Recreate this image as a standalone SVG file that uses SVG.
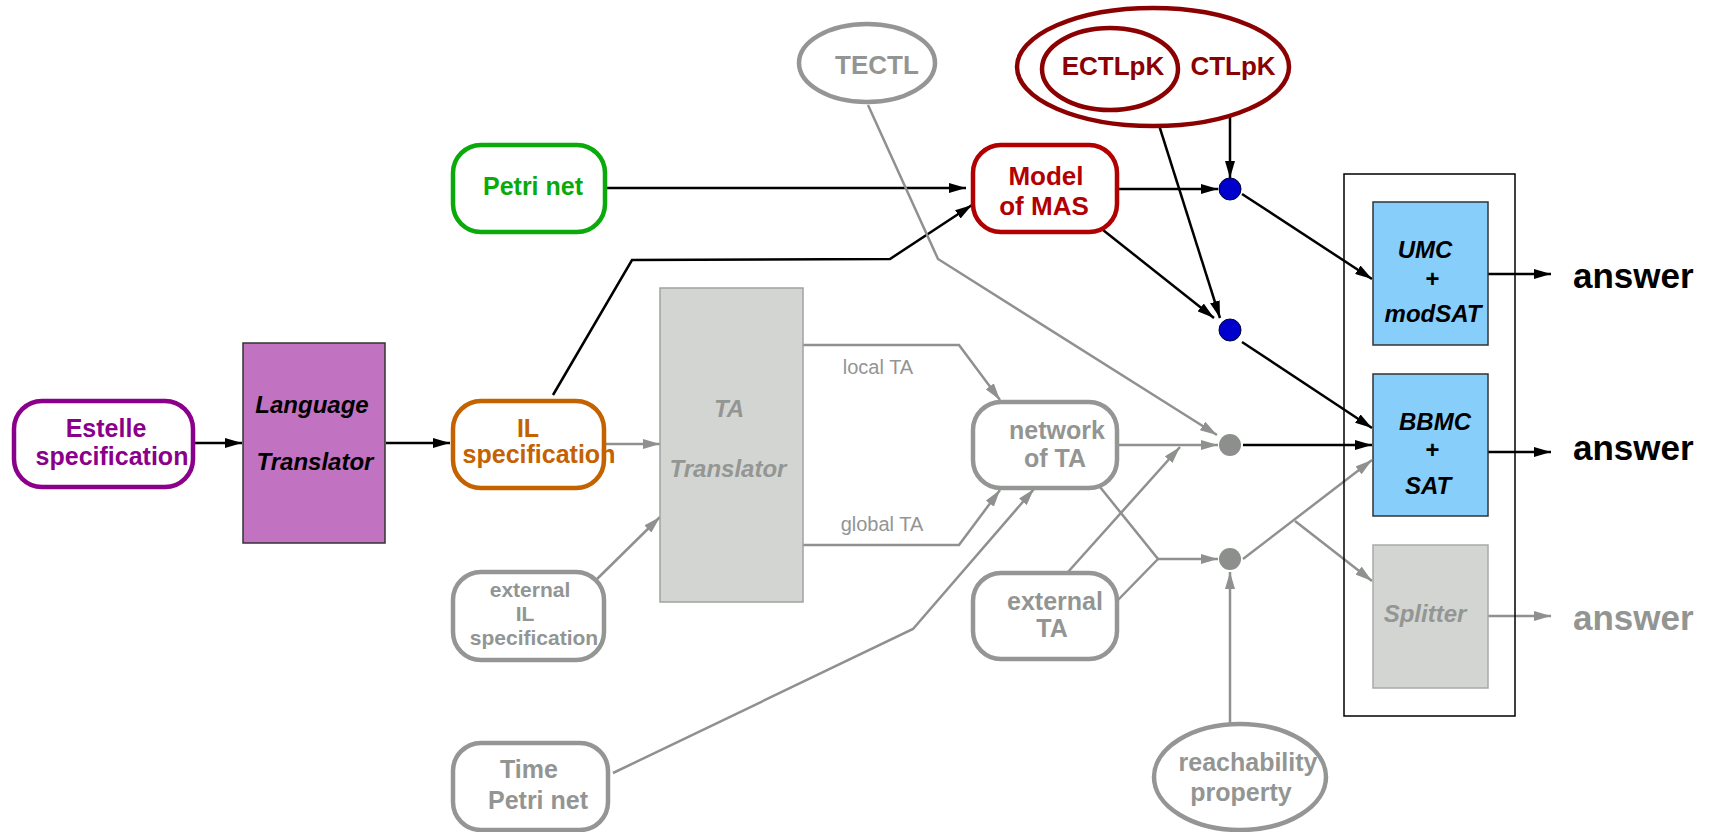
<svg xmlns="http://www.w3.org/2000/svg" width="1715" height="832" viewBox="0 0 1715 832">
<style>
.node{fill:#fff;stroke-width:4.5}
.lbl{font-family:"Liberation Sans",Arial,sans-serif;font-weight:bold;font-size:25px;text-anchor:middle}
.bi{font-family:"Liberation Sans",Arial,sans-serif;font-weight:bold;font-style:italic;font-size:24px;text-anchor:middle}
.small{font-family:"Liberation Sans",Arial,sans-serif;font-size:20px;text-anchor:middle;fill:#939593}
.ans{font-family:"Liberation Sans",Arial,sans-serif;font-weight:bold;font-size:35px}
.gray{stroke:#949694}
.gtxt{fill:#939593}
.bl{fill:none;stroke:#000;stroke-width:2.5}
.gl{fill:none;stroke:#8e918e;stroke-width:2.5}
</style>
<defs>
<marker id="ab" markerUnits="userSpaceOnUse" markerWidth="18" markerHeight="10" refX="17" refY="5" orient="auto"><path d="M0,0 L17,5 L0,10 z" fill="#000"/></marker>
<marker id="ag" markerUnits="userSpaceOnUse" markerWidth="18" markerHeight="10" refX="17" refY="5" orient="auto"><path d="M0,0 L17,5 L0,10 z" fill="#8e918e"/></marker>
</defs>
<rect width="1715" height="832" fill="#fff"/>

<g id="connectors">
<path class="bl" d="M186,443 L242,443" marker-end="url(#ab)"/>
<path class="bl" d="M386,443 L450,443" marker-end="url(#ab)"/>
<path class="bl" d="M605,188 L966,188" marker-end="url(#ab)"/>
<path class="bl" d="M553,395 L632,260 L890,259 L972,205" marker-end="url(#ab)"/>
<path class="bl" d="M1117,189 L1218,189" marker-end="url(#ab)"/>
<path class="bl" d="M1230,117 L1230,178" marker-end="url(#ab)"/>
<path class="bl" d="M1103,230 L1214,318" marker-end="url(#ab)"/>
<path class="bl" d="M1152,103 L1220,318" marker-end="url(#ab)"/>
<path class="bl" d="M1242,194 L1372,279" marker-end="url(#ab)"/>
<path class="bl" d="M1242,342 L1372,428" marker-end="url(#ab)"/>
<path class="bl" d="M1243,445 L1372,445" marker-end="url(#ab)"/>
<path class="bl" d="M1488,274 L1551,274" marker-end="url(#ab)"/>
<path class="bl" d="M1488,452 L1551,452" marker-end="url(#ab)"/>
<path class="gl" d="M1488,616 L1551,616" marker-end="url(#ag)"/>
<path class="gl" d="M604,444 L660,444" marker-end="url(#ag)"/>
<path class="gl" d="M597,579 L660,517" marker-end="url(#ag)"/>
<path class="gl" d="M803,345 L959,345 L1000,400" marker-end="url(#ag)"/>
<path class="gl" d="M803,545 L959,545 L1000,490" marker-end="url(#ag)"/>
<path class="gl" d="M613,773 L913,629 L1034,489" marker-end="url(#ag)"/>
<path class="gl" d="M868,105 L938,259 L1217,435" marker-end="url(#ag)"/>
<path class="gl" d="M1117,445 L1218,445" marker-end="url(#ag)"/>
<path class="gl" d="M1068,572 L1180,447" marker-end="url(#ag)"/>
<path class="gl" d="M1100,487 L1158,559 L1118,600"/>
<path class="gl" d="M1158,559 L1218,559" marker-end="url(#ag)"/>
<path class="gl" d="M1230,723 L1230,572" marker-end="url(#ag)"/>
<path class="gl" d="M1243,559 L1372,460" marker-end="url(#ag)"/>
<path class="gl" d="M1295,521 L1372,581" marker-end="url(#ag)"/>
<text class="small" x="878" y="374">local TA</text>
<text class="small" x="882" y="531">global TA</text>
</g>

<g id="estelle">
<rect class="node" x="14" y="401" width="179" height="86" rx="28" stroke="#8b008b"/>
<text class="lbl" x="106" y="437" fill="#8b008b">Estelle</text>
<text class="lbl" x="112" y="465" fill="#8b008b">specification</text>
</g>
<g id="language-translator">
<rect x="243" y="343" width="142" height="200" fill="#c172c0" stroke="#333" stroke-width="1.5"/>
<text class="bi" x="312" y="413" fill="#000">Language</text>
<text class="bi" x="315" y="470" fill="#000">Translator</text>
</g>
<g id="petri-net">
<rect class="node" x="453" y="145" width="152" height="87" rx="28" stroke="#0aaa0a"/>
<text class="lbl" x="533" y="195" fill="#0aaa0a">Petri net</text>
</g>
<g id="il-spec">
<rect class="node" x="453" y="401" width="151" height="87" rx="28" stroke="#c46200"/>
<text class="lbl" x="528" y="437" fill="#c46200">IL</text>
<text class="lbl" x="539" y="463" fill="#c46200">specification</text>
</g>
<g id="external-il">
<rect class="node gray" x="453" y="572" width="151" height="88" rx="28"/>
<text class="lbl gtxt" x="530" y="597" style="font-size:21px">external</text>
<text class="lbl gtxt" x="525" y="621" style="font-size:21px">IL</text>
<text class="lbl gtxt" x="534" y="645" style="font-size:21px">specification</text>
</g>
<g id="time-petri-net">
<rect class="node gray" x="453" y="743" width="155" height="87" rx="28"/>
<text class="lbl gtxt" x="529" y="778">Time</text>
<text class="lbl gtxt" x="538" y="809">Petri net</text>
</g>
<g id="ta-translator">
<rect x="660" y="288" width="143" height="314" fill="#d3d5d2" stroke="#a0a2a0" stroke-width="1.5"/>
<text class="bi" x="729" y="417" fill="#949694">TA</text>
<text class="bi" x="728" y="477" fill="#949694">Translator</text>
</g>
<g id="tectl">
<ellipse class="node gray" cx="867" cy="63" rx="68" ry="39"/>
<text class="lbl gtxt" x="877" y="74" style="font-size:26px">TECTL</text>
</g>
<g id="ctlpk">
<ellipse class="node" cx="1153" cy="67" rx="136" ry="59" stroke="#8b0000"/>
<text class="lbl" x="1233" y="75" fill="#8b0000" style="font-size:26px">CTLpK</text>
</g>
<g id="ectlpk">
<ellipse class="node" cx="1110" cy="69" rx="68" ry="41" stroke="#8b0000"/>
<text class="lbl" x="1113" y="75" fill="#8b0000" style="font-size:26px">ECTLpK</text>
</g>
<g id="model-mas">
<rect class="node" x="973" y="145" width="144" height="87" rx="28" stroke="#b20000"/>
<text class="lbl" x="1046" y="185" fill="#b20000" style="font-size:26px">Model</text>
<text class="lbl" x="1044" y="215" fill="#b20000" style="font-size:26px">of MAS</text>
</g>
<g id="network-ta">
<rect class="node gray" x="973" y="402" width="144" height="86" rx="28"/>
<text class="lbl gtxt" x="1057" y="439">network</text>
<text class="lbl gtxt" x="1055" y="467">of TA</text>
</g>
<g id="external-ta">
<rect class="node gray" x="973" y="573" width="144" height="86" rx="28"/>
<text class="lbl gtxt" x="1055" y="610">external</text>
<text class="lbl gtxt" x="1052" y="637">TA</text>
</g>
<g id="reachability">
<ellipse class="node gray" cx="1240" cy="777" rx="86" ry="53"/>
<text class="lbl gtxt" x="1248" y="771">reachability</text>
<text class="lbl gtxt" x="1241" y="801">property</text>
</g>
<g id="dot1"><circle cx="1230" cy="189" r="11" fill="#0000cc" stroke="#000033" stroke-width="1"/></g>
<g id="dot2"><circle cx="1230" cy="330" r="11" fill="#0000cc" stroke="#000033" stroke-width="1"/></g>
<g id="dot3"><circle cx="1230" cy="445" r="11" fill="#8c8f8b"/></g>
<g id="dot4"><circle cx="1230" cy="559" r="11" fill="#8c8f8b"/></g>
<g id="checkers">
<rect x="1344" y="174" width="171" height="542" fill="none" stroke="#000" stroke-width="1.5"/>
</g>
<g id="umc">
<rect x="1373" y="202" width="115" height="143" fill="#87cefa" stroke="#333" stroke-width="1.5"/>
<text class="bi" x="1425" y="258" fill="#000">UMC</text>
<text class="bi" x="1432" y="287" fill="#000">+</text>
<text class="bi" x="1433" y="322" fill="#000">modSAT</text>
</g>
<g id="bbmc">
<rect x="1373" y="374" width="115" height="142" fill="#87cefa" stroke="#333" stroke-width="1.5"/>
<text class="bi" x="1435" y="430" fill="#000">BBMC</text>
<text class="bi" x="1432" y="458" fill="#000">+</text>
<text class="bi" x="1428" y="494" fill="#000">SAT</text>
</g>
<g id="splitter">
<rect x="1373" y="545" width="115" height="143" fill="#d3d5d2" stroke="#a8aaa8" stroke-width="1.5"/>
<text class="bi" x="1425" y="622" fill="#949694">Splitter</text>
</g>
<g id="answer1"><text class="ans" x="1573" y="288" fill="#000">answer</text></g>
<g id="answer2"><text class="ans" x="1573" y="460" fill="#000">answer</text></g>
<g id="answer3"><text class="ans" x="1573" y="630" fill="#939593">answer</text></g>
</svg>
